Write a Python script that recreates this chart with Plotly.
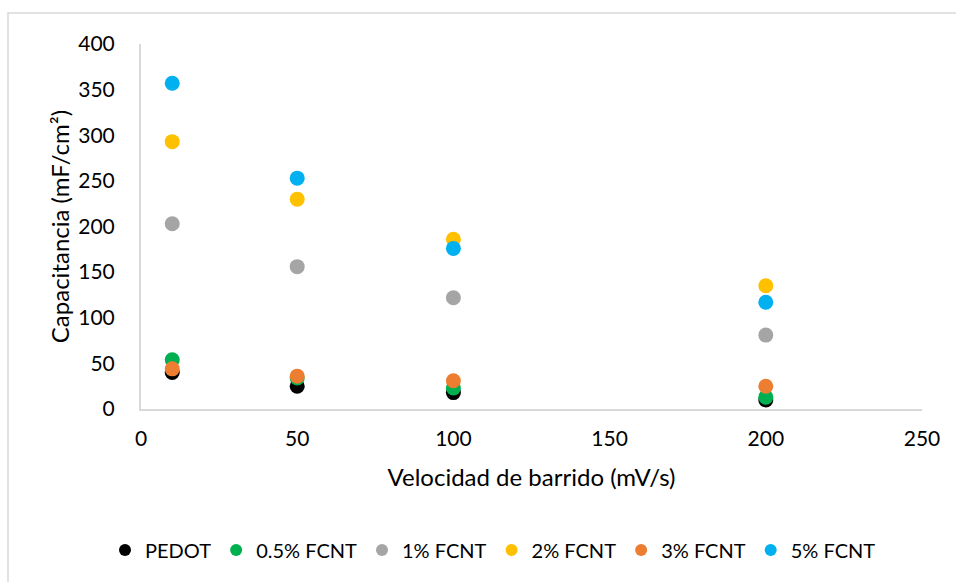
import plotly.graph_objects as go

# Sweep rates (mV/s) and specific capacitance (mF/cm²) per composition
scan_rate = [10, 50, 100, 200]
series_names = ["PEDOT", "0.5% FCNT", "1% FCNT", "2% FCNT", "3% FCNT", "5% FCNT"]
pedot = [40, 25, 18, 10]
fcnt_05 = [54, 34, 23, 13]
fcnt_1 = [203, 156, 122, 81]
fcnt_2 = [293, 230, 186, 135]
fcnt_3 = [44, 36, 31, 25]
fcnt_5 = [357, 253, 176, 117]
colors = ["#000000", "#00b050", "#a5a5a5", "#ffc000", "#ed7d31", "#00b0f0"]

x_ticks = [0, 50, 100, 150, 200, 250]
y_ticks = [0, 50, 100, 150, 200, 250, 300, 350, 400]

FONT = "Lato, 'Open Sans', sans-serif"

fig = go.Figure()
for name, vals, col in zip(series_names,
                           [pedot, fcnt_05, fcnt_1, fcnt_2, fcnt_3, fcnt_5],
                           colors):
    fig.add_trace(go.Scatter(
        x=scan_rate, y=vals, name=name, mode="markers",
        marker=dict(size=15, color=col, line=dict(width=0)),
    ))

W, H = 956, 582
L, R, T, B = 141, 34, 44, 173
pw, ph = W - L - R, H - T - B

fig.update_layout(
    width=W, height=H,
    margin=dict(l=L, r=R, t=T, b=B),
    paper_bgcolor="white", plot_bgcolor="white",
    font=dict(family=FONT, color="#000000"),
    showlegend=True,
    legend=dict(
        orientation="h", x=(493 - L) / pw, xanchor="center",
        y=(H - B - 550) / ph, yanchor="middle",
        font=dict(size=20, family=FONT), itemsizing="constant",
        itemwidth=30, tracegroupgap=0,
    ),
    xaxis=dict(
        range=[0, 250], tickvals=x_ticks, ticks="", showgrid=False,
        zeroline=False, showline=True, linecolor="#d9d9d9", linewidth=2,
        tickfont=dict(size=21, family=FONT), ticklabelstandoff=10,
        title=dict(text="Velocidad de barrido (mV/s)",
                   font=dict(size=24, family=FONT), standoff=20),
    ),
    yaxis=dict(
        range=[0, 400], tickvals=y_ticks, ticks="", showgrid=False,
        zeroline=False, showline=True, linecolor="#d9d9d9", linewidth=2,
        tickfont=dict(size=21, family=FONT), ticklabelstandoff=20,
        title=dict(text="Capacitancia (mF/cm²)",
                   font=dict(size=24, family=FONT), standoff=2),
    ),
    shapes=[dict(
        type="rect", xref="paper", yref="paper",
        x0=(8 - L) / pw, x1=(W + 10 - L) / pw,
        y0=(H - B - (H + 10)) / ph, y1=1 + (T - 13) / ph,
        line=dict(color="#d9d9d9", width=1.5), fillcolor="rgba(0,0,0,0)",
        layer="below",
    )],
)

fig.write_html("out.html")
